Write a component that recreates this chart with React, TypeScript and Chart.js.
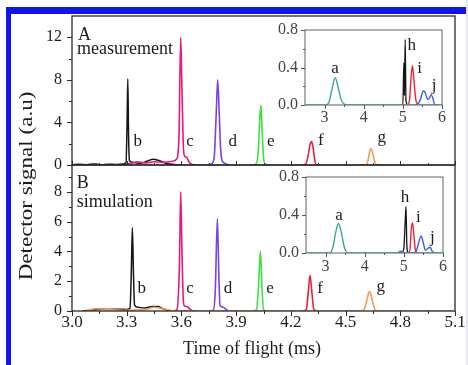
import React, { useEffect, useRef } from "react";
import { Chart, registerables } from "chart.js";

Chart.register(...registerables);

type Pt = [number, number];
type Label = [string, number, number];

// ---------- Panel A: measurement (time of flight in ms, signal in a.u.) ----------
const measB: Pt[] = [
  [3.0, 0.02], [3.04, 0.08], [3.08, 0.02], [3.12, 0.1], [3.16, 0.03], [3.2, 0.08],
  [3.24, 0.05], [3.28, 0.1], [3.296, 0.2], [3.302, 4.0], [3.306, 8.1], [3.31, 3.0],
  [3.315, 0.4], [3.33, 0.25], [3.37, 0.15], [3.41, 0.35], [3.445, 0.55], [3.48, 0.4],
  [3.52, 0.15], [3.56, 0.05], [3.6, 0.0],
];
const measC: Pt[] = [
  [3.28, 0.0], [3.32, 0.15], [3.36, 0.3], [3.4, 0.2], [3.45, 0.3], [3.5, 0.25],
  [3.55, 0.35], [3.576, 0.6], [3.587, 3.0], [3.596, 12.0], [3.603, 7.0], [3.61, 2.0],
  [3.618, 0.8], [3.628, 0.75], [3.64, 0.3], [3.66, 0.05], [3.7, 0.0],
];
const measD: Pt[] = [
  [3.74, 0.0], [3.765, 0.1], [3.78, 0.8], [3.79, 4.5], [3.799, 8.0], [3.807, 5.0],
  [3.815, 1.5], [3.823, 0.4], [3.84, 0.15], [3.86, 0.0],
];
const measE: Pt[] = [
  [3.98, 0.0], [4.01, 0.1], [4.022, 1.5], [4.03, 4.5], [4.036, 5.6], [4.043, 3.0],
  [4.05, 0.8], [4.057, 0.1], [4.09, 0.0],
];
const measF: Pt[] = [
  [4.26, 0.0], [4.282, 0.1], [4.295, 0.9], [4.305, 1.9], [4.314, 2.2], [4.322, 1.6],
  [4.33, 0.6], [4.338, 0.05], [4.36, 0.0],
];
const measG: Pt[] = [
  [4.58, 0.0], [4.615, 0.05], [4.625, 0.6], [4.633, 1.3], [4.64, 1.55], [4.648, 1.2],
  [4.657, 0.5], [4.668, 0.05], [4.7, 0.0],
];

// ---------- Panel B: simulation ----------
const simB: Pt[] = [
  [3.06, 0.0], [3.1, 0.05], [3.15, 0.12], [3.2, 0.1], [3.25, 0.12], [3.3, 0.1],
  [3.318, 0.2], [3.325, 2.5], [3.331, 5.6], [3.337, 2.5], [3.343, 0.4], [3.36, 0.25],
  [3.4, 0.2], [3.44, 0.3], [3.47, 0.3], [3.5, 0.15], [3.53, 0.02], [3.56, 0.0],
];
const simC: Pt[] = [
  [3.55, 0.0], [3.575, 0.1], [3.589, 3.0], [3.596, 8.0], [3.603, 4.0], [3.61, 0.8],
  [3.616, 0.35], [3.63, 0.3], [3.645, 0.15], [3.66, 0.02], [3.69, 0.0],
];
const simD: Pt[] = [
  [3.75, 0.0], [3.775, 0.05], [3.786, 1.5], [3.797, 6.2], [3.806, 2.0], [3.812, 0.35],
  [3.83, 0.25], [3.845, 0.1], [3.86, 0.0],
];
const simE: Pt[] = [
  [3.99, 0.0], [4.012, 0.1], [4.022, 1.5], [4.033, 4.0], [4.042, 1.5], [4.05, 0.1],
  [4.08, 0.0],
];
const simF: Pt[] = [
  [4.26, 0.0], [4.285, 0.1], [4.295, 1.2], [4.305, 2.4], [4.315, 1.3], [4.326, 0.1],
  [4.35, 0.0],
];
const simG: Pt[] = [
  [3.08, 0.0], [3.13, 0.15], [3.2, 0.1], [3.28, 0.05], [3.4, 0.1], [3.45, 0.25],
  [3.5, 0.15], [3.55, 0.02], [3.7, 0.0], [4.59, 0.0], [4.605, 0.2], [4.618, 0.8],
  [4.63, 1.3], [4.643, 0.9], [4.655, 0.3], [4.665, 0.02], [4.7, 0.0], [5.1, 0.0],
];

// ---------- Insets (wide time window) ----------
const insMeasA: Pt[] = [
  [2.5, 0.0], [3.05, 0.0], [3.12, 0.04], [3.19, 0.17], [3.27, 0.29], [3.34, 0.2],
  [3.42, 0.06], [3.5, 0.01], [3.6, 0.0], [6.0, 0.0],
];
const insMeasH: Pt[] = [
  [4.95, 0.0], [5.0, 0.0], [5.025, 0.45], [5.04, 0.1], [5.06, 0.7], [5.08, 0.05], [5.12, 0.0],
];
const insMeasI: Pt[] = [
  [5.12, 0.0], [5.17, 0.05], [5.21, 0.3], [5.245, 0.42], [5.28, 0.28], [5.33, 0.06], [5.38, 0.0],
];
const insMeasJ: Pt[] = [
  [5.3, 0.0], [5.38, 0.01], [5.45, 0.06], [5.52, 0.15], [5.56, 0.14], [5.62, 0.07],
  [5.66, 0.06], [5.72, 0.11], [5.76, 0.08], [5.82, 0.0], [5.9, 0.0],
];
const insSimA: Pt[] = [
  [2.5, 0.0], [3.1, 0.0], [3.18, 0.05], [3.26, 0.22], [3.33, 0.31], [3.4, 0.22],
  [3.48, 0.06], [3.56, 0.0], [6.0, 0.0],
];
const insSimH: Pt[] = [
  [4.85, 0.0], [4.95, 0.01], [5.0, 0.05], [5.03, 0.3], [5.055, 0.49], [5.075, 0.1], [5.1, 0.0],
];
const insSimI: Pt[] = [
  [5.12, 0.0], [5.16, 0.05], [5.19, 0.25], [5.22, 0.32], [5.25, 0.22], [5.29, 0.04], [5.33, 0.0],
];
const insSimJ: Pt[] = [
  [4.85, 0.0], [4.92, 0.02], [4.98, 0.01], [5.05, 0.0], [5.3, 0.01], [5.36, 0.08],
  [5.44, 0.18], [5.5, 0.1], [5.55, 0.03], [5.62, 0.05], [5.67, 0.06], [5.72, 0.02], [5.78, 0.0],
];

// ---------- tick values ----------
const xMajor = [3.0, 3.3, 3.6, 3.9, 4.2, 4.5, 4.8, 5.1];
const xMinor = [3.15, 3.45, 3.75, 4.05, 4.35, 4.65, 4.95];
const yMajorA = [0, 4, 8, 12];
const yMinorA = [2, 6, 10];
const yMajorB = [0, 2, 4, 6, 8];
const yMinorB = [1, 3, 5, 7, 9];
const insXMajor = [3, 4, 5, 6];
const insXMinor = [3.5, 4.5, 5.5];
const insYMajor = [0, 0.4, 0.8];
const insYMinor = [0.2, 0.6];

// ---------- peak annotations: [letter, time, signal] ----------
const labelsA: Label[] = [
  ["b", 3.36, 1.74], ["c", 3.647, 1.74], ["d", 3.881, 1.74], ["e", 4.09, 1.74],
  ["f", 4.365, 1.88], ["g", 4.698, 2.19],
];
const labelsB: Label[] = [
  ["b", 3.382, 1.19], ["c", 3.647, 1.19], ["d", 3.855, 1.19], ["e", 4.086, 1.19],
  ["f", 4.36, 1.21], ["g", 4.693, 1.36],
];
const labelsInsA: Label[] = [
  ["a", 3.266, 0.338], ["h", 5.226, 0.587], ["i", 5.43, 0.338], ["j", 5.796, 0.16],
];
const labelsInsB: Label[] = [
  ["a", 3.343, 0.347], ["h", 5.03, 0.54], ["i", 5.37, 0.33], ["j", 5.73, 0.12],
];

const W = 468;
const H = 365;
const SERIF = '"Liberation Serif", "Times New Roman", serif';
const INK = "#1c1c1c";

const COLORS = {
  black: "#151515",
  magenta: "#e8187c",
  purple: "#7a42e6",
  green: "#3ce03c",
  red: "#ea1e40",
  orange: "#f29c55",
  teal: "#38a899",
  redI: "#f0223c",
  blue: "#3a5ee8",
};

type TickSpec = { scale: string; edge: "left" | "bottom"; values: number[]; len: number };

interface Decor {
  fill?: string;
  frame: string;
  frameWidth: number;
  tickColor: string;
  ticks: TickSpec[];
  labels: Label[];
  labelFont: string;
  extra?: (ctx: CanvasRenderingContext2D, chart: Chart) => void;
}

function makeDecor(d: Decor) {
  return {
    id: "decor",
    beforeDraw(chart: Chart) {
      if (!d.fill) return;
      const { ctx, chartArea: a } = chart;
      ctx.save();
      ctx.fillStyle = d.fill;
      ctx.fillRect(a.left, a.top, a.right - a.left, a.bottom - a.top);
      ctx.restore();
    },
    afterDraw(chart: Chart) {
      const { ctx, chartArea: a } = chart;
      ctx.save();
      ctx.strokeStyle = d.frame;
      ctx.lineWidth = d.frameWidth;
      ctx.strokeRect(a.left, a.top, a.right - a.left, a.bottom - a.top);

      ctx.beginPath();
      ctx.strokeStyle = d.tickColor;
      ctx.lineWidth = 1;
      for (const t of d.ticks) {
        const s = chart.scales[t.scale];
        for (const v of t.values) {
          const p = Math.round(s.getPixelForValue(v)) + 0.5;
          if (t.edge === "left") {
            ctx.moveTo(a.left, p);
            ctx.lineTo(a.left - t.len, p);
          } else {
            ctx.moveTo(p, a.bottom);
            ctx.lineTo(p, a.bottom + t.len);
          }
        }
      }
      ctx.stroke();

      const xs = chart.scales.x;
      const ys = chart.scales.y;
      ctx.fillStyle = INK;
      ctx.font = d.labelFont;
      ctx.textAlign = "center";
      ctx.textBaseline = "alphabetic";
      for (const [txt, x, y] of d.labels) {
        ctx.fillText(txt, xs.getPixelForValue(x), ys.getPixelForValue(y));
      }
      if (d.extra) d.extra(ctx, chart);
      ctx.restore();
    },
  };
}

function series(pts: Pt[], color: string, width: number) {
  return {
    data: pts.map(([x, y]) => ({ x, y })),
    borderColor: color,
    borderWidth: width,
    pointRadius: 0,
    fill: false,
    cubicInterpolationMode: "monotone" as const,
  };
}

function axis(opts: {
  min: number;
  max: number;
  ticks?: number[];
  horizontal: boolean;
  size: number;
  display?: boolean;
  font?: number;
  color?: string;
  padding?: number;
  fmt?: (v: number) => string;
}) {
  return {
    type: "linear" as const,
    min: opts.min,
    max: opts.max,
    display: opts.display !== false,
    afterBuildTicks: (s: any) => {
      if (opts.ticks) s.ticks = opts.ticks.map((v) => ({ value: v }));
    },
    afterFit: (s: any) => {
      if (opts.horizontal) s.height = opts.size;
      else s.width = opts.size;
      s.paddingLeft = 0;
      s.paddingRight = 0;
      s.paddingTop = 0;
      s.paddingBottom = 0;
    },
    grid: { display: false, drawTicks: false },
    border: { display: false },
    ticks: {
      autoSkip: false,
      maxRotation: 0,
      minRotation: 0,
      padding: opts.padding ?? 4,
      color: opts.color ?? INK,
      font: { family: SERIF, size: opts.font ?? 16 },
      callback: (v: any) => (opts.fmt ? opts.fmt(Number(v)) : String(v)),
    },
  };
}

function baseOptions(padding: { left: number; top: number; right: number; bottom: number }, scales: any) {
  return {
    responsive: false,
    animation: false as const,
    devicePixelRatio: 1,
    layout: { padding },
    plugins: { legend: { display: false }, tooltip: { enabled: false } },
    events: [] as any[],
    scales,
  };
}

function buildPanelA(canvas: HTMLCanvasElement) {
  return new Chart(canvas, {
    type: "line",
    data: {
      datasets: [
        series(measC, COLORS.magenta, 1.6),
        series(measB, COLORS.black, 1.5),
        series(measD, COLORS.purple, 1.6),
        series(measE, COLORS.green, 1.6),
        series(measF, COLORS.red, 1.6),
        series(measG, COLORS.orange, 1.6),
      ] as any,
    },
    options: baseOptions(
      { left: 0, top: 16, right: W - 455, bottom: H - 165 },
      {
        x: axis({ min: 3.0, max: 5.1, horizontal: true, size: 0, display: false }),
        y: axis({ min: 0, max: 14, ticks: yMajorA, horizontal: false, size: 72, padding: 10, font: 16 }),
      }
    ) as any,
    plugins: [
      makeDecor({
        frame: "#2a2a2a",
        frameWidth: 1.3,
        tickColor: "#2a2a2a",
        ticks: [
          { scale: "y", edge: "left", values: yMajorA, len: 5 },
          { scale: "y", edge: "left", values: yMinorA, len: 3 },
          { scale: "x", edge: "bottom", values: xMajor, len: -4 },
          { scale: "x", edge: "bottom", values: xMinor, len: -2 },
        ],
        labels: labelsA,
        labelFont: `17px ${SERIF}`,
        extra: (ctx, chart) => {
          const xs = chart.scales.x;
          const ys = chart.scales.y;
          ctx.textAlign = "left";
          ctx.font = `18px ${SERIF}`;
          ctx.fillText("A", xs.getPixelForValue(3.033), ys.getPixelForValue(11.74));
          ctx.fillText("measurement", xs.getPixelForValue(3.027), ys.getPixelForValue(10.43));
        },
      }),
    ],
  });
}

function buildPanelB(canvas: HTMLCanvasElement) {
  return new Chart(canvas, {
    type: "line",
    data: {
      datasets: [
        series(simG, COLORS.orange, 1.6),
        series(simB, COLORS.black, 1.5),
        series(simC, COLORS.magenta, 1.6),
        series(simD, COLORS.purple, 1.6),
        series(simE, COLORS.green, 1.6),
        series(simF, COLORS.red, 1.6),
      ] as any,
    },
    options: baseOptions(
      { left: 0, top: 165, right: W - 455, bottom: 24 },
      {
        x: axis({
          min: 3.0,
          max: 5.1,
          ticks: xMajor,
          horizontal: true,
          size: H - 24 - 311,
          padding: 1,
          font: 17,
          fmt: (v) => v.toFixed(1),
        }),
        y: axis({ min: 0, max: 9.8, ticks: yMajorB, horizontal: false, size: 72, padding: 10, font: 16 }),
      }
    ) as any,
    plugins: [
      makeDecor({
        frame: "#2a2a2a",
        frameWidth: 1.3,
        tickColor: "#2a2a2a",
        ticks: [
          { scale: "y", edge: "left", values: yMajorB, len: 5 },
          { scale: "y", edge: "left", values: yMinorB, len: 3 },
          { scale: "x", edge: "bottom", values: xMajor, len: 5 },
          { scale: "x", edge: "bottom", values: xMinor, len: 3 },
        ],
        labels: labelsB,
        labelFont: `17px ${SERIF}`,
        extra: (ctx, chart) => {
          const xs = chart.scales.x;
          const ys = chart.scales.y;
          ctx.textAlign = "left";
          ctx.font = `18px ${SERIF}`;
          ctx.fillText("B", xs.getPixelForValue(3.026), ys.getPixelForValue(8.26));
          ctx.fillText("simulation", xs.getPixelForValue(3.026), ys.getPixelForValue(6.98));

          // axis titles
          ctx.textAlign = "center";
          ctx.font = `18px ${SERIF}`;
          ctx.fillText("Time of flight (ms)", 252, 354);
          ctx.save();
          ctx.translate(27, 186);
          ctx.rotate(-Math.PI / 2);
          ctx.scale(1.28, 1);
          ctx.textBaseline = "middle";
          ctx.fillText("Detector signal (a.u)", 0, 0);
          ctx.restore();
        },
      }),
    ],
  });
}

function buildInset(
  canvas: HTMLCanvasElement,
  area: { left: number; top: number; right: number; bottom: number },
  xPad: number,
  traces: { a: Pt[]; h: Pt[]; i: Pt[]; j: Pt[] },
  labels: Label[]
) {
  const yAxisW = 40;
  const xAxisH = 25;
  return new Chart(canvas, {
    type: "line",
    data: {
      datasets: [
        series(traces.a, COLORS.teal, 1.4),
        series(traces.j, COLORS.blue, 1.4),
        series(traces.i, COLORS.redI, 1.4),
        series(traces.h, COLORS.black, 1.3),
      ] as any,
    },
    options: baseOptions(
      {
        left: area.left - yAxisW,
        top: area.top,
        right: W - area.right,
        bottom: H - area.bottom - xAxisH,
      },
      {
        x: axis({
          min: 2.5,
          max: 6,
          ticks: insXMajor,
          horizontal: true,
          size: xAxisH,
          padding: xPad,
          font: 16,
          color: "#444",
        }),
        y: axis({
          min: 0,
          max: 0.8,
          ticks: insYMajor,
          horizontal: false,
          size: yAxisW,
          padding: 7,
          font: 16,
          color: "#444",
          fmt: (v) => v.toFixed(1),
        }),
      }
    ) as any,
    plugins: [
      makeDecor({
        fill: "#ffffff",
        frame: "#707070",
        frameWidth: 1.1,
        tickColor: "#555",
        ticks: [
          { scale: "y", edge: "left", values: insYMajor, len: 4 },
          { scale: "y", edge: "left", values: insYMinor, len: 2 },
          { scale: "x", edge: "bottom", values: insXMajor, len: 4 },
          { scale: "x", edge: "bottom", values: insXMinor, len: 2 },
        ],
        labels,
        labelFont: `17px ${SERIF}`,
      }),
    ],
  });
}

const buildInsetA = (c: HTMLCanvasElement) =>
  buildInset(
    c,
    { left: 305, top: 30, right: 442, bottom: 105 },
    3,
    { a: insMeasA, h: insMeasH, i: insMeasI, j: insMeasJ },
    labelsInsA
  );

const buildInsetB = (c: HTMLCanvasElement) =>
  buildInset(
    c,
    { left: 306, top: 177, right: 443, bottom: 253 },
    4,
    { a: insSimA, h: insSimH, i: insSimI, j: insSimJ },
    labelsInsB
  );

function PlotCanvas({ build }: { build: (c: HTMLCanvasElement) => Chart }) {
  const ref = useRef<HTMLCanvasElement>(null);
  useEffect(() => {
    if (!ref.current) return;
    const chart = build(ref.current);
    return () => chart.destroy();
  }, [build]);
  return (
    <canvas
      ref={ref}
      width={W}
      height={H}
      style={{ position: "absolute", left: 0, top: 0, width: W, height: H }}
    />
  );
}

export default function App() {
  return (
    <div
      style={{
        position: "fixed",
        left: 0,
        top: 0,
        width: W,
        height: H,
        background: "#ffffff",
        overflow: "hidden",
      }}
    >
      <PlotCanvas build={buildPanelA} />
      <PlotCanvas build={buildPanelB} />
      <PlotCanvas build={buildInsetA} />
      <PlotCanvas build={buildInsetB} />
      <div style={{ position: "absolute", left: 6, top: 7, width: 460, height: 7, background: "#1414e8" }} />
      <div style={{ position: "absolute", left: 6, top: 7, width: 5, height: H - 7, background: "#1414e8" }} />
      <div style={{ position: "absolute", left: 466, top: 0, width: 2, height: H, background: "#e6e6f6" }} />
    </div>
  );
}
